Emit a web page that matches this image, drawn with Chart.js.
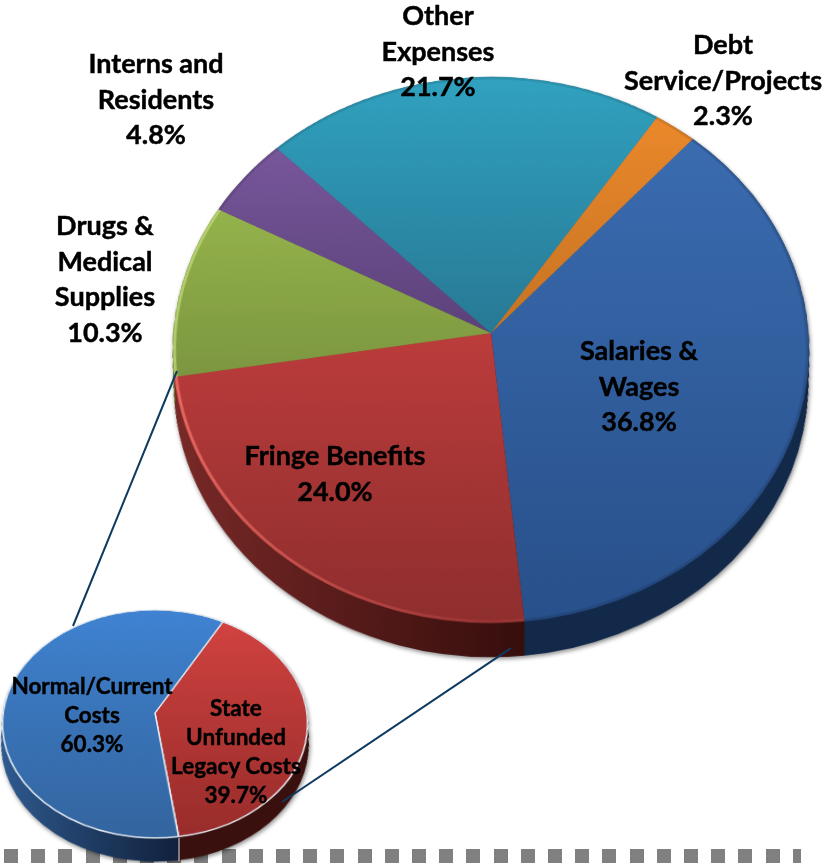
<!DOCTYPE html>
<html>
<head>
<meta charset="utf-8">
<title>Expenses</title>
<script src="https://cdn.jsdelivr.net/npm/chart.js@4/dist/chart.umd.js"></script>
<style>
  html, body { margin: 0; padding: 0; background: #fff; }
  #stage { position: relative; width: 827px; height: 863px; overflow: hidden; }
  #stage canvas { position: absolute; transform-origin: 50% 50%; }
  #dashes { position: absolute; left: 4px; top: 849px; width: 797px; height: 14px;
    background: repeating-linear-gradient(90deg, #808080 0 14px, transparent 14px 27.2px); }
  #lines { position: absolute; left: 0; top: 0; }
  .label { position: absolute; transform: translateX(-50%); text-align: center; white-space: nowrap;
    font-family: Lato, "Open Sans", sans-serif; font-weight: 700; color: #000;
    -webkit-text-stroke: 0.45px #000; }
  .label.big { font-size: 27px; line-height: 35.6px; }
  .label.small { font-size: 22.5px; line-height: 29px; }
</style>
</head>
<body>
<div id="stage">
  <div id="dashes"></div>
  <svg id="lines" width="827" height="863">
    <line x1="177" y1="371" x2="73" y2="626" stroke="#0f3a5f" stroke-width="2"/>
    <line x1="511" y1="648" x2="282" y2="802" stroke="#0f3a5f" stroke-width="2"/>
    <line x1="179" y1="838" x2="179" y2="861" stroke="#d8dde3" stroke-width="1"/>
  </svg>
</div>
<script>
// Expense breakdown, clockwise from the Debt/Salaries boundary
const expenseLabels = [["Salaries &", "Wages"], ["Fringe Benefits"], ["Drugs &", "Medical", "Supplies"], ["Interns and", "Residents"], ["Other", "Expenses"], ["Debt", "Service/Projects"]];
const expenseValues = [36.8, 24.0, 10.3, 4.8, 21.7, 2.3];

// Split of the salaries slice
const costLabels = [["State", "Unfunded", "Legacy Costs"], ["Normal/Current", "Costs"]];
const costValues = [39.7, 60.3];

// face colours, top of the disc to bottom of the disc
const expenseTop = ["#3d70b6", "#e84a48", "#aacb55", "#835fa8", "#30a2c0", "#f28c2c"];
const expenseBottom = ["#28508a", "#8f2e2e", "#5a7030", "#33244c", "#1f506a", "#9a5a1a"];
// rim and wall colours, left edge to centre
const expenseRim = [["rgba(18,38,75,.22)", "rgba(18,38,75,.22)"], ["rgba(245,115,105,.8)", "rgba(225,95,90,.12)"], ["rgba(195,220,125,.7)", "rgba(195,220,125,.7)"], ["rgba(0,0,0,.1)", "rgba(0,0,0,.1)"], ["rgba(0,0,0,.1)", "rgba(0,0,0,.1)"], ["rgba(0,0,0,.1)", "rgba(0,0,0,.1)"]];
const expenseWall = [["#12294a", "#12294a"], ["#7a2a28", "#360e0c"], ["#6a8030", "#6a8030"], ["#4a3560", "#4a3560"], ["#1f6078", "#1f6078"], ["#9a5a1a", "#9a5a1a"]];

const costTop = ["#d54442", "#3f83d2"];
const costBottom = ["#982c2a", "#33659f"];
const costWall = [["#3a100e", "#3a100e"], ["#2f5c92", "#12233f"]];

const stage = document.getElementById("stage");

function addCanvas(size, hubX, hubY, camera, tilt, shadow) {
  const canvas = document.createElement("canvas");
  canvas.width = size;
  canvas.height = size;
  canvas.style.left = hubX - size / 2 + "px";
  canvas.style.top = hubY - size / 2 + "px";
  canvas.style.transform = `perspective(${camera}px) rotateX(${tilt}deg)`;
  if (shadow) canvas.style.filter = "drop-shadow(1px 2px 2px rgba(0,0,0,.45))";
  stage.appendChild(canvas);
  return canvas;
}

// repeats the arcs downwards, shrinking a little, so the disc gets a side wall
const extrude = {
  id: "extrude",
  beforeDatasetsDraw(chart, args, opts) {
    const ctx = chart.ctx;
    const arcs = chart.getDatasetMeta(0).data;
    const cx = arcs[0].x;
    const cy = arcs[0].y;
    for (let k = opts.depth; k > 0; k--) {
      const s = 1 - (opts.shrink * k) / opts.depth;
      ctx.save();
      ctx.translate(cx, cy + k);
      ctx.scale(s, s);
      ctx.translate(-cx, -cy);
      arcs.forEach((arc) => arc.draw(ctx));
      ctx.restore();
    }
  },
};

// thin coloured line just inside the outer edge of each slice
const rim = {
  id: "rim",
  afterDatasetsDraw(chart, args, opts) {
    if (!opts.colors) return;
    const ctx = chart.ctx;
    chart.getDatasetMeta(0).data.forEach((arc, i) => {
      const g = ctx.createLinearGradient(arc.x - arc.outerRadius, 0, arc.x, 0);
      g.addColorStop(0, opts.colors[i][0]);
      g.addColorStop(1, opts.colors[i][1]);
      ctx.save();
      ctx.strokeStyle = g;
      ctx.lineWidth = opts.width;
      ctx.beginPath();
      ctx.arc(arc.x, arc.y, arc.outerRadius - opts.width / 2, arc.startAngle, arc.endAngle);
      ctx.stroke();
      ctx.restore();
    });
  },
};

function drawDisc(values, cfg) {
  const { size, radius, hubX, hubY, camera, tilt, rotation, depth, shrink } = cfg;
  const mid = size / 2;

  const wallCanvas = addCanvas(size, hubX, hubY, camera, tilt, true);
  const wallCtx = wallCanvas.getContext("2d");
  const wallFill = cfg.wall.map((c) => {
    const g = wallCtx.createLinearGradient(mid - radius, 0, mid + radius * 0.1, 0);
    g.addColorStop(0, c[0]);
    g.addColorStop(1, c[1]);
    return g;
  });
  new Chart(wallCanvas, {
    type: "pie",
    data: { datasets: [{ data: values, backgroundColor: wallFill, borderWidth: 0 }] },
    options: {
      responsive: false,
      animation: false,
      radius: radius,
      rotation: rotation,
      plugins: { legend: { display: false }, tooltip: { enabled: false }, extrude: { depth, shrink } },
    },
    plugins: [extrude],
  });

  const faceCanvas = addCanvas(size, hubX, hubY, camera, tilt, false);
  const faceCtx = faceCanvas.getContext("2d");
  const faceFill = cfg.top.map((c, i) => {
    const g = faceCtx.createLinearGradient(0, mid - radius, 0, mid + radius);
    g.addColorStop(0, c);
    g.addColorStop(1, cfg.bottom[i]);
    return g;
  });
  new Chart(faceCanvas, {
    type: "pie",
    data: { datasets: [{ data: values, backgroundColor: faceFill, borderWidth: cfg.border, borderColor: "#e6ecf3" }] },
    options: {
      responsive: false,
      animation: false,
      radius: radius,
      rotation: rotation,
      plugins: { legend: { display: false }, tooltip: { enabled: false }, rim: { colors: cfg.rim, width: 3 } },
    },
    plugins: [rim],
  });
}

drawDisc(expenseValues, {
  size: 800, radius: 317.4, hubX: 491, hubY: 333, camera: 2629, tilt: 31.07, rotation: 41.7, depth: 38, shrink: 0.01,
  top: expenseTop, bottom: expenseBottom, rim: expenseRim, wall: expenseWall, border: 0,
});
drawDisc(costValues, {
  size: 400, radius: 151.8, hubX: 155, hubY: 713, camera: 1051, tilt: 41.93, rotation: 29, depth: 27, shrink: 0.01,
  top: costTop, bottom: costBottom, wall: costWall, border: 1.5,
});

// the connector lines sit over both discs
stage.appendChild(document.getElementById("lines"));

// [centre x, top of first line]
const expenseLabelPos = [[639, 332], [335, 437], [105, 207], [156, 45], [438, -3], [723, 26]];
const costLabelPos = [[236, 693], [92, 671]];

function addLabels(names, values, positions, size) {
  names.forEach((lines, i) => {
    const div = document.createElement("div");
    div.className = "label " + size;
    div.style.left = positions[i][0] + "px";
    div.style.top = positions[i][1] + "px";
    div.innerHTML = lines.concat(values[i].toFixed(1) + "%").join("<br>");
    stage.appendChild(div);
  });
}
addLabels(expenseLabels, expenseValues, expenseLabelPos, "big");
addLabels(costLabels, costValues, costLabelPos, "small");
</script>
</body>
</html>
